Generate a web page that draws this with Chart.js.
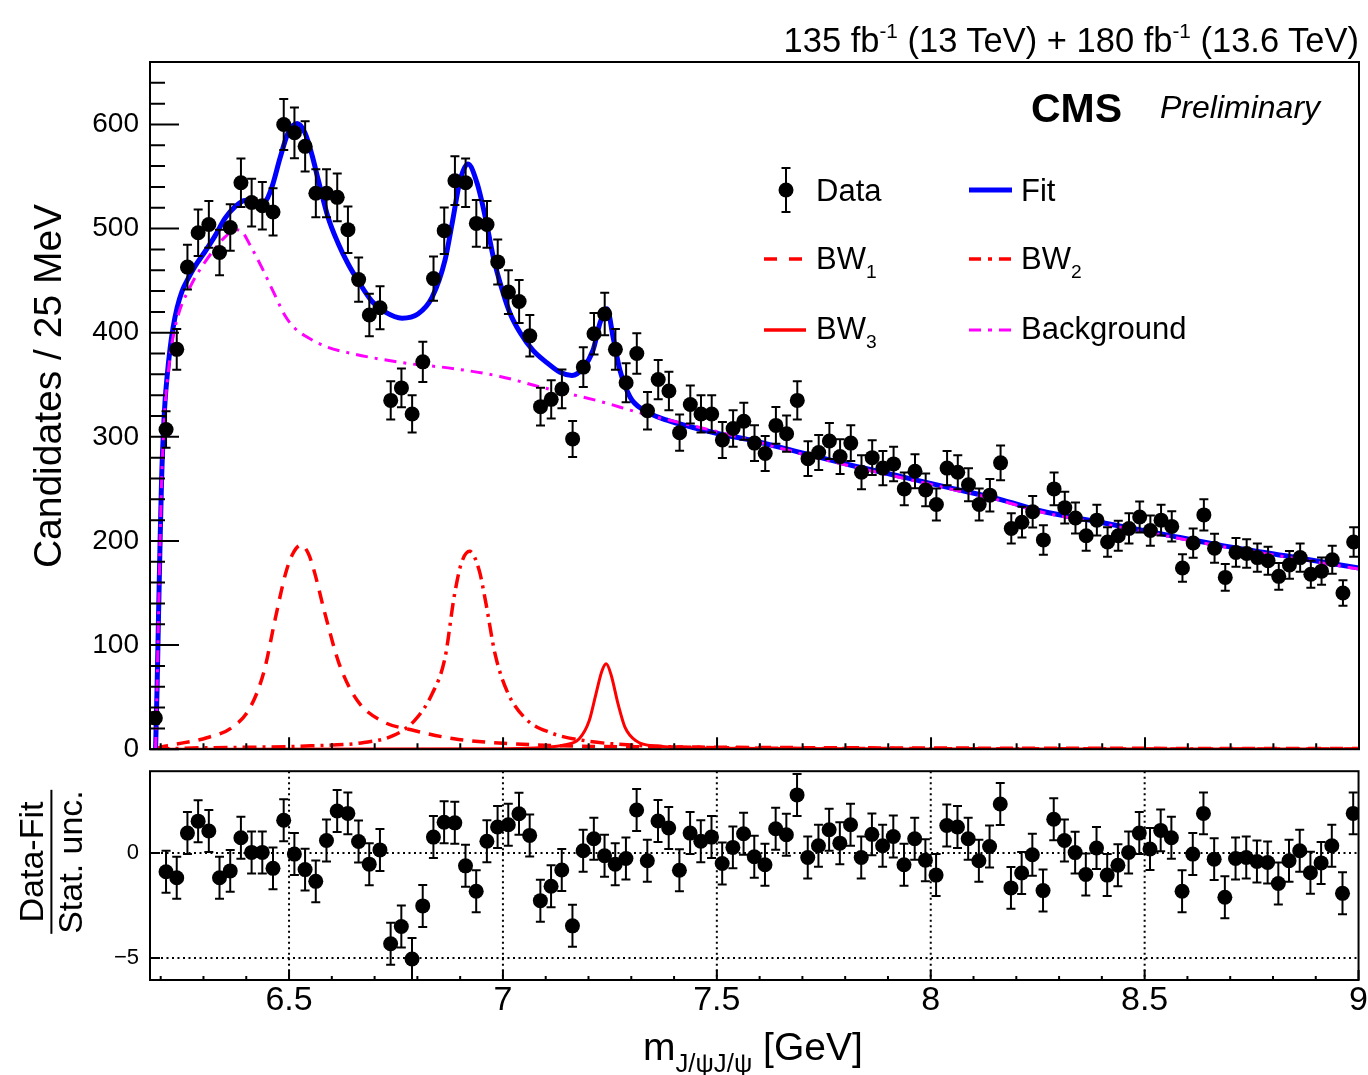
<!DOCTYPE html>
<html>
<head>
<meta charset="utf-8">
<script src="https://cdn.jsdelivr.net/npm/chart.js@4.4.1/dist/chart.umd.min.js"></script>
<style>
  body { margin: 0; background: #fff; font-family: "Liberation Sans", Arial, sans-serif; }
  #page { position: relative; width: 1368px; height: 1075px; overflow: hidden; }
  .wrap { position: absolute; left: 0; width: 1368px; }
  .txt { position: absolute; white-space: nowrap; color: #000; line-height: 1; }
  .rot { position: absolute; white-space: nowrap; color: #000; line-height: 1; transform: translate(-50%, -50%) rotate(-90deg); }
  .hi { font-size: 0.6em; vertical-align: 0.7em; }
  .lo { font-size: 0.62em; vertical-align: -0.45em; }
  svg { position: absolute; left: 0; top: 0; pointer-events: none; }
</style>
</head>
<body>
<div id="page">
  <div class="wrap" style="top:0; height:777px;"><canvas id="mainChart"></canvas></div>
  <div class="wrap" style="top:747px; height:328px;"><canvas id="pullChart"></canvas></div>

  <svg width="1368" height="1075">
    <line x1="786" y1="168" x2="786" y2="212" stroke="#000" stroke-width="2"/>
    <line x1="781.5" y1="168" x2="790.5" y2="168" stroke="#000" stroke-width="2"/>
    <line x1="781.5" y1="212" x2="790.5" y2="212" stroke="#000" stroke-width="2"/>
    <circle cx="786" cy="190" r="7.5" fill="#000"/>
    <line x1="969" y1="190" x2="1012" y2="190" stroke="#0000ff" stroke-width="5"/>
    <line x1="764" y1="259" x2="806" y2="259" stroke="#ff0000" stroke-width="3.5" stroke-dasharray="13 12"/>
    <line x1="969" y1="259" x2="1012" y2="259" stroke="#ff0000" stroke-width="3.5" stroke-dasharray="12 7 4 7"/>
    <line x1="764" y1="330" x2="806" y2="330" stroke="#ff0000" stroke-width="3.5"/>
    <line x1="969" y1="330" x2="1012" y2="330" stroke="#ff00ff" stroke-width="3" stroke-dasharray="12 7 4 7"/>
  </svg>

  <div class="txt" style="right:9px; top:21px; font-size:34.5px;">135 fb<span class="hi">-1</span> (13 TeV) + 180 fb<span class="hi">-1</span> (13.6 TeV)</div>
  <div class="txt" style="left:1031px; top:88px; font-size:41px; font-weight:bold;">CMS</div>
  <div class="txt" style="left:1160px; top:91px; font-size:32px; font-style:italic;">Preliminary</div>

  <div class="txt" style="left:816px; top:175px; font-size:31px;">Data</div>
  <div class="txt" style="left:1021px; top:175px; font-size:31px;">Fit</div>
  <div class="txt" style="left:816px; top:243px; font-size:31px;">BW<span class="lo">1</span></div>
  <div class="txt" style="left:1021px; top:243px; font-size:31px;">BW<span class="lo">2</span></div>
  <div class="txt" style="left:816px; top:313px; font-size:31px;">BW<span class="lo">3</span></div>
  <div class="txt" style="left:1021px; top:313px; font-size:31px;">Background</div>

  <div class="rot" style="left:47px; top:386px; font-size:39px;">Candidates / 25 MeV</div>
  <div class="rot" style="left:51px; top:862px; font-size:34px; line-height:0.9; text-align:center;">
    <div style="padding:0 2px 3px;">Data-Fit</div>
    <div style="border-top:2px solid #000; padding-top:3px;">Stat. unc.</div>
  </div>
  <div class="txt" style="left:643px; top:1027px; font-size:39px;">m<span class="lo" style="font-size:0.66em;">J/ψJ/ψ</span> [GeV]</div>
</div>

<script>
// bin centres of the 25 MeV histogram
const BIN_CENTER = [
  6.1875, 6.2125, 6.2375, 6.2625, 6.2875, 6.3125, 6.3375, 6.3625, 6.3875, 6.4125,
  6.4375, 6.4625, 6.4875, 6.5125, 6.5375, 6.5625, 6.5875, 6.6125, 6.6375, 6.6625,
  6.6875, 6.7125, 6.7375, 6.7625, 6.7875, 6.8125, 6.8375, 6.8625, 6.8875, 6.9125,
  6.9375, 6.9625, 6.9875, 7.0125, 7.0375, 7.0625, 7.0875, 7.1125, 7.1375, 7.1625,
  7.1875, 7.2125, 7.2375, 7.2625, 7.2875, 7.3125, 7.3375, 7.3625, 7.3875, 7.4125,
  7.4375, 7.4625, 7.4875, 7.5125, 7.5375, 7.5625, 7.5875, 7.6125, 7.6375, 7.6625,
  7.6875, 7.7125, 7.7375, 7.7625, 7.7875, 7.8125, 7.8375, 7.8625, 7.8875, 7.9125,
  7.9375, 7.9625, 7.9875, 8.0125, 8.0375, 8.0625, 8.0875, 8.1125, 8.1375, 8.1625,
  8.1875, 8.2125, 8.2375, 8.2625, 8.2875, 8.3125, 8.3375, 8.3625, 8.3875, 8.4125,
  8.4375, 8.4625, 8.4875, 8.5125, 8.5375, 8.5625, 8.5875, 8.6125, 8.6375, 8.6625,
  8.6875, 8.7125, 8.7375, 8.7625, 8.7875, 8.8125, 8.8375, 8.8625, 8.8875, 8.9125,
  8.9375, 8.9625, 8.9875
];

const COUNTS = [
  30, 307, 384, 463, 496, 504, 477, 501, 544, 525,
  522, 516, 600, 592, 579, 534, 534, 530, 499, 451,
  417, 424, 335, 347, 322, 372, 452, 498, 546, 544,
  505, 504, 468, 439, 430, 397, 329, 336, 346, 298,
  367, 399, 418, 384, 352, 380, 325, 355, 344, 304,
  331, 322, 322, 297, 308, 315, 294, 284, 311, 303,
  335, 279, 285, 296, 281, 294, 266, 280, 270, 274,
  250, 267, 249, 235, 270, 266, 254, 235, 244, 275,
  212, 218, 228, 201, 250, 232, 222, 205, 220, 199,
  205, 212, 223, 210, 220, 214, 174, 198, 225, 193,
  165, 189, 188, 184, 181, 166, 177, 184, 168, 171,
  182, 150, 199
];

// (data - fit) / stat. unc., first bin not shown
const PULL = [
  null, -0.89, -1.18, 0.95, 1.52, 1.05, -1.18, -0.85, 0.73, 0.03,
  0.03, -0.73, 1.56, -0.05, -0.79, -1.35, 0.60, 2.00, 1.89, 0.55,
  -0.53, 0.15, -4.32, -3.50, -5.05, -2.52, 0.76, 1.47, 1.44, -0.61,
  -1.82, 0.56, 1.24, 1.35, 1.87, 0.84, -2.27, -1.58, -0.81, -3.47,
  0.11, 0.68, -0.13, -0.53, -0.26, 2.05, -0.37, 1.53, 1.19, -0.82,
  0.95, 0.56, 0.76, -0.50, 0.27, 0.92, -0.18, -0.56, 1.16, 0.87,
  2.77, -0.21, 0.35, 1.11, 0.47, 1.35, -0.21, 0.89, 0.35, 0.79,
  -0.56, 0.68, -0.34, -1.05, 1.31, 1.24, 0.68, -0.37, 0.31, 2.34,
  -1.66, -0.95, -0.08, -1.79, 1.61, 0.60, 0.02, -1.02, 0.24, -1.05,
  -0.58, 0.03, 0.95, 0.19, 1.08, 0.73, -1.82, -0.05, 1.89, -0.29,
  -2.11, -0.26, -0.21, -0.40, -0.45, -1.45, -0.37, 0.11, -0.94, -0.47,
  0.35, -1.92, 1.89
];
const PULL_ERR = 1;

// fit curves
const FIT_X = [6.188, 6.1916, 6.195, 6.1986, 6.202, 6.2056, 6.2103, 6.215, 6.222, 6.229,
  6.2383, 6.25, 6.264, 6.2804, 6.3037, 6.327, 6.3505, 6.374, 6.397, 6.4206,
  6.444, 6.46, 6.479, 6.4977, 6.5187, 6.537, 6.554, 6.568, 6.591, 6.6145,
  6.638, 6.661, 6.694, 6.724, 6.764, 6.801, 6.834, 6.8645, 6.881, 6.9,
  6.918, 6.939, 6.958, 6.977, 6.998, 7.016, 7.04, 7.07, 7.103, 7.133,
  7.161, 7.187, 7.21, 7.227, 7.243, 7.257, 7.273, 7.297, 7.327, 7.383,
  7.444, 7.514, 7.577, 7.694, 7.811, 7.928, 8.044, 8.161, 8.255, 8.395,
  8.535, 8.675, 8.839, 9.0];
const FIT_Y = [0, 60, 130, 200, 258, 298, 335, 358, 385, 405,
  424, 440, 452, 464, 478, 493, 510, 521, 527, 524,
  526, 540, 568, 592, 601, 592, 570, 547, 511, 486,
  466, 450, 430, 420, 414, 418, 434, 470, 505, 547,
  562, 544, 512, 473, 441, 419, 400, 383, 371, 362,
  359, 366, 383, 410, 423, 396, 364, 338, 326, 316,
  309, 302, 297, 285, 273, 262, 251, 240, 229, 218,
  207, 196, 185, 174];

const BKG_X = [6.188, 6.1916, 6.195, 6.1986, 6.202, 6.2056, 6.2103, 6.215, 6.222, 6.229,
  6.2383, 6.25, 6.264, 6.2804, 6.3037, 6.327, 6.3505, 6.374, 6.39, 6.409,
  6.437, 6.467, 6.491, 6.514, 6.537, 6.591, 6.647, 6.708, 6.787, 6.876,
  6.993, 7.086, 7.227, 7.32, 7.46, 7.577, 7.694, 7.811, 7.928, 8.044,
  8.161, 8.255, 8.395, 8.535, 8.675, 8.839, 9.0];
const BKG_Y = [0, 60, 130, 200, 255, 295, 330, 352, 377, 396,
  413, 428, 440, 453, 468, 481, 492, 499, 497, 484,
  462, 436, 416, 404, 397, 386, 380, 375, 370, 366,
  358, 348, 334, 323, 309, 297, 284, 272, 261, 250,
  239, 228, 217, 206, 195, 184, 173];

const BW1_X = [6.188, 6.2, 6.224, 6.308, 6.367, 6.409, 6.4416, 6.467, 6.492, 6.509,
  6.528, 6.545, 6.558, 6.584, 6.617, 6.659, 6.717, 6.792, 6.8855, 7.009,
  7.178, 7.46, 7.93, 9.0];
const BW1_Y = [0, 2, 4, 11, 21, 40, 75, 124, 169, 188,
  196, 188, 172, 130, 82, 47, 27, 18, 10, 5.5,
  3, 2, 1.2, 0.6];

const BW2_X = [6.188, 6.259, 6.551, 6.675, 6.743, 6.792, 6.834, 6.8645, 6.8855, 6.902,
  6.922, 6.944, 6.96, 6.981, 7.009, 7.051, 7.11, 7.194, 7.3, 7.477,
  7.928, 9.0];
const BW2_Y = [0, 1, 3.2, 6.4, 13, 27, 53, 88, 146, 178,
  190, 172, 140, 92, 56, 30, 16, 8, 4, 1.6,
  0.6, 0.2];

const BW3_X = [6.188, 7.009, 7.093, 7.1425, 7.178, 7.201, 7.217, 7.231, 7.241, 7.252,
  7.269, 7.285, 7.311, 7.36, 7.477, 7.928, 9.0];
const BW3_Y = [0, 0.5, 1.6, 4, 10, 27, 53, 75, 82, 72,
  43, 21, 8, 3, 1, 0.3, 0.1];

const X_MIN = 6.175, X_MAX = 9.0;

Chart.defaults.font.family = '"Liberation Sans", Arial, sans-serif';
Chart.defaults.color = '#000';

const pts = (xs, ys) => xs.map((x, i) => ({ x: x, y: ys[i] }));

// vertical error bars with small caps, drawn just before the markers
const errorBars = {
  id: 'errorBars',
  beforeDatasetDraw(chart, args) {
    const ds = chart.data.datasets[args.index];
    if (ds.yErr === undefined) return;
    const { ctx, chartArea: a, scales: { x, y } } = chart;
    ctx.save();
    ctx.beginPath();
    ctx.rect(a.left, a.top, a.width, a.height);
    ctx.clip();
    ctx.strokeStyle = '#000';
    ctx.lineWidth = 2;
    ctx.beginPath();
    ds.data.forEach((p, i) => {
      if (p.y === null) return;
      const e = typeof ds.yErr === 'number' ? ds.yErr : ds.yErr[i];
      const px = x.getPixelForValue(p.x);
      const lo = y.getPixelForValue(p.y - e);
      const hi = y.getPixelForValue(p.y + e);
      ctx.moveTo(px, lo); ctx.lineTo(px, hi);
      ctx.moveTo(px - 4.5, lo); ctx.lineTo(px + 4.5, lo);
      ctx.moveTo(px - 4.5, hi); ctx.lineTo(px + 4.5, hi);
    });
    ctx.stroke();
    ctx.restore();
  }
};

// frame + inward ticks like ROOT, dotted grid for the ratio pad
const rootFrame = {
  id: 'rootFrame',
  beforeDatasetsDraw(chart, args, opts) {
    if (!opts.dottedGrid) return;
    const { ctx, chartArea: a, scales: { x, y } } = chart;
    ctx.save();
    ctx.strokeStyle = '#000';
    ctx.lineWidth = 2;
    ctx.setLineDash([2, 3.5]);
    ctx.beginPath();
    for (let k = 13; k <= 17; k++) {
      const px = x.getPixelForValue(k / 2);
      ctx.moveTo(px, a.top); ctx.lineTo(px, a.bottom);
    }
    for (const v of [0, -5]) {
      const py = y.getPixelForValue(v);
      ctx.moveTo(a.left, py); ctx.lineTo(a.right, py);
    }
    ctx.stroke();
    ctx.restore();
  },
  afterDraw(chart, args, opts) {
    const { ctx, chartArea: a, scales: { x, y } } = chart;
    ctx.save();
    ctx.strokeStyle = '#000';
    ctx.lineWidth = 2;
    ctx.beginPath();
    for (let k = 62; k <= 90; k++) {
      const px = x.getPixelForValue(k / 10);
      const len = k % 5 === 0 ? opts.xMajor : opts.xMinor;
      ctx.moveTo(px, a.bottom); ctx.lineTo(px, a.bottom - len);
    }
    const start = Math.ceil(y.min / opts.yStep) * opts.yStep;
    for (let v = start; v <= y.max; v += opts.yStep) {
      const py = y.getPixelForValue(v);
      const len = v % opts.yMajorEvery === 0 ? opts.yMajor : opts.yMinor;
      ctx.moveTo(a.left, py); ctx.lineTo(a.left + len, py);
    }
    ctx.stroke();
    ctx.strokeRect(a.left, a.top, a.width, a.height);
    ctx.restore();
  }
};

const curve = (xs, ys, color, width, dash, order) => ({
  data: pts(xs, ys),
  borderColor: color,
  borderWidth: width,
  borderDash: dash,
  pointRadius: 0,
  fill: false,
  cubicInterpolationMode: 'monotone',
  order: order
});

new Chart(document.getElementById('mainChart'), {
  type: 'line',
  data: {
    datasets: [
      {
        label: 'Data',
        data: pts(BIN_CENTER, COUNTS),
        yErr: COUNTS.map(Math.sqrt),
        showLine: false,
        pointRadius: 7.5,
        pointBackgroundColor: '#000',
        pointBorderColor: '#000',
        pointBorderWidth: 0,
        order: 0
      },
      curve(BKG_X, BKG_Y, '#ff00ff', 3, [12, 7, 3, 7], 1),
      curve(FIT_X, FIT_Y, '#0000ff', 5, [], 2),
      curve(BW1_X, BW1_Y, '#ff0000', 3.5, [13, 9], 3),
      curve(BW2_X, BW2_Y, '#ff0000', 3.5, [14, 6, 3, 6], 4),
      curve(BW3_X, BW3_Y, '#ff0000', 3, [], 5)
    ]
  },
  options: {
    responsive: true,
    maintainAspectRatio: false,
    animation: false,
    events: [],
    layout: { padding: { top: 62, right: 9, bottom: 22, left: 0 } },
    plugins: {
      legend: { display: false },
      tooltip: { enabled: false },
      rootFrame: { xMajor: 12, xMinor: 6, yStep: 20, yMajorEvery: 100, yMajor: 29, yMinor: 15 }
    },
    scales: {
      x: { type: 'linear', min: X_MIN, max: X_MAX, display: false },
      y: {
        type: 'linear', min: 0, max: 660,
        grid: { display: false, drawTicks: false },
        border: { display: false },
        ticks: { stepSize: 100, includeBounds: false, padding: 11, color: '#000', font: { size: 28 } },
        afterFit(s) { s.width = 150; }
      }
    }
  },
  plugins: [errorBars, rootFrame]
});

new Chart(document.getElementById('pullChart'), {
  type: 'line',
  data: {
    datasets: [{
      label: 'Pull',
      data: pts(BIN_CENTER, PULL),
      yErr: PULL_ERR,
      showLine: false,
      pointRadius: 7.5,
      pointBackgroundColor: '#000',
      pointBorderColor: '#000',
      pointBorderWidth: 0
    }]
  },
  options: {
    responsive: true,
    maintainAspectRatio: false,
    animation: false,
    events: [],
    layout: { padding: { top: 11, right: 9, bottom: 0, left: 0 } },
    plugins: {
      legend: { display: false },
      tooltip: { enabled: false },
      rootFrame: { dottedGrid: true, xMajor: 10, xMinor: 4, yStep: 5, yMajorEvery: 5, yMajor: 10, yMinor: 10 }
    },
    scales: {
      x: {
        type: 'linear', min: X_MIN, max: X_MAX,
        grid: { display: false, drawTicks: false },
        border: { display: false },
        ticks: { stepSize: 0.5, includeBounds: false, padding: 0, maxRotation: 0, color: '#000', font: { size: 34 },
                 callback: v => String(v) },
        afterFit(s) { s.height = 95; }
      },
      y: {
        type: 'linear', min: -6.05, max: 3.9,
        grid: { display: false, drawTicks: false },
        border: { display: false },
        ticks: { stepSize: 5, includeBounds: false, padding: 11, color: '#000', font: { size: 22 },
                 callback: v => (v < 0 ? '\u2212' + Math.abs(v) : String(v)) },
        afterFit(s) { s.width = 150; }
      }
    }
  },
  plugins: [errorBars, rootFrame]
});
</script>
</body>
</html>
